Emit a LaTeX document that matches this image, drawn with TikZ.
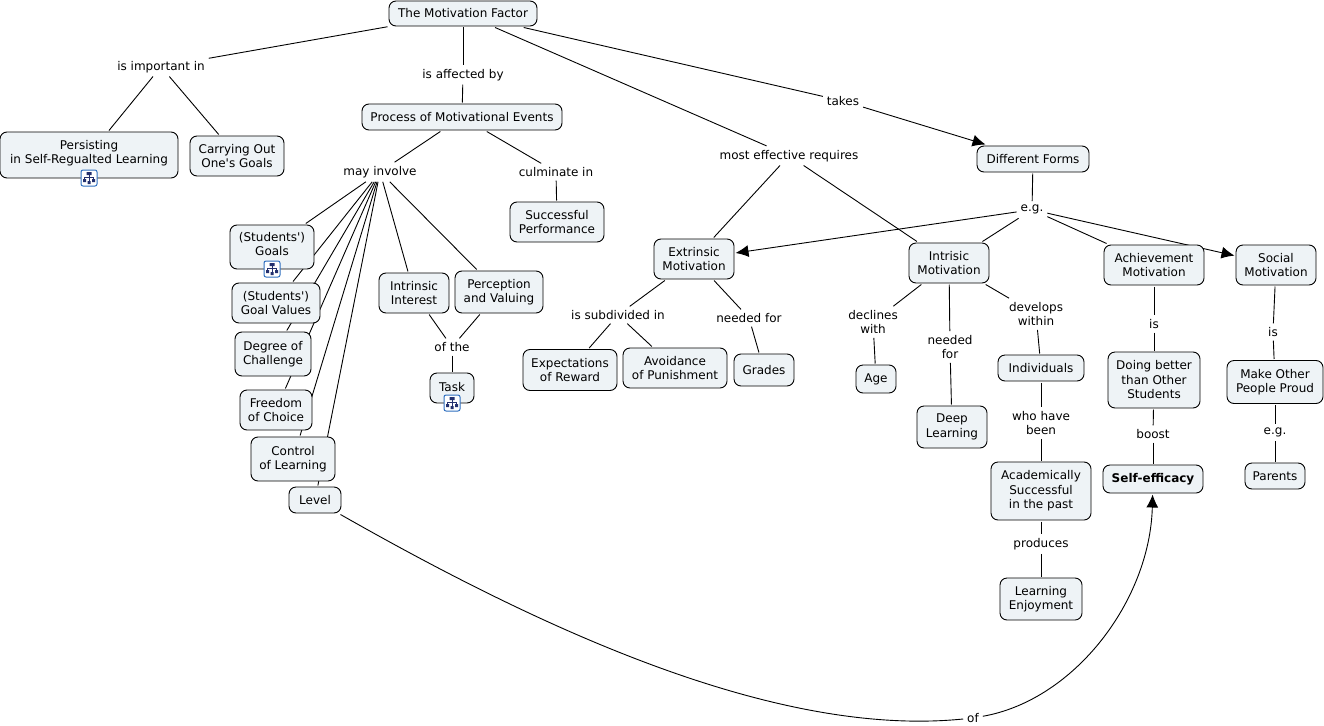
\documentclass[tikz,border=0pt]{standalone}
\usepackage{fontspec}
\setmainfont{DejaVu Sans}[Ligatures=TeXOff]
\usetikzlibrary{arrows.meta,backgrounds}
\definecolor{boxfill}{HTML}{EEF3F6}
\definecolor{iconblue}{HTML}{2F6FC0}
\definecolor{icondark}{HTML}{23306E}

\begin{document}
\begin{tikzpicture}[x=1pt,y=-1pt,font=\fontsize{12}{14.5}\selectfont]
\tikzset{concept/.style = {shape=rectangle,draw,fill=boxfill,rounded corners=7pt,align=center,inner sep=0pt,outer sep=1.5pt,line width=0.9pt}}
\tikzset{link/.style = {align=center,inner sep=2.5pt,outer sep=1.5pt}}
\tikzset{edge/.style = {line width=0.9pt}}
\tikzset{arrowedge/.style = {edge,-{Latex[length=13pt,width=12pt]}}}
\tikzset{mapicon/.pic = {
  \draw[iconblue,fill=white,rounded corners=2pt,line width=1pt] (-8,-8) rectangle (8,8);
  \draw[icondark,line width=0.6pt] (0,-3) -- (0,3) (-4.5,1) -- (-4.5,-1) -- (4.5,-1) -- (4.5,1);
  \fill[icondark] (-2.5,-6) rectangle (2.5,-3) (-6,1) rectangle (-3,4) (3,1) rectangle (6,4) (-1.5,3) rectangle (1.5,6);
}}
\useasboundingbox (0,0) rectangle (1324,725);
% concepts
\node[concept,minimum width=148pt,minimum height=25pt] (factor) at (463,13.5) {The Motivation Factor};
\node[concept,minimum width=178pt,minimum height=46pt,text depth=6pt] (persisting) at (89,155) {Persisting\\in Self-Regualted Learning};
\node[concept,minimum width=94pt,minimum height=40pt] (carrying) at (237,156) {Carrying Out\\One's Goals};
\node[concept,minimum width=200pt,minimum height=26pt] (process) at (462,117) {Process of Motivational Events};
\node[concept,minimum width=94pt,minimum height=40pt] (successful) at (557,222) {Successful\\Performance};
\node[concept,minimum width=84pt,minimum height=44pt,text depth=6pt] (goals) at (272,247) {(Students')\\Goals};
\node[concept,minimum width=88pt,minimum height=40pt] (values) at (276,303) {(Students')\\Goal Values};
\node[concept,minimum width=76pt,minimum height=44pt] (challenge) at (273,354) {Degree of\\Challenge};
\node[concept,minimum width=72pt,minimum height=40pt] (freedom) at (276,410) {Freedom\\of Choice};
\node[concept,minimum width=84pt,minimum height=44pt] (control) at (293,459) {Control\\of Learning};
\node[concept,minimum width=52pt,minimum height=26pt] (level) at (315,500) {Level};
\node[concept,minimum width=70pt,minimum height=40pt] (interest) at (414,293) {Intrinsic\\Interest};
\node[concept,minimum width=88pt,minimum height=42pt] (perception) at (499,292) {Perception\\and Valuing};
\node[concept,minimum width=44pt,minimum height=30pt,text depth=3pt] (task) at (452,388) {Task};
\node[concept,minimum width=112pt,minimum height=26pt] (forms) at (1033,159) {Different Forms};
\node[concept,minimum width=80pt,minimum height=40pt] (extrinsic) at (694,259) {Extrinsic\\Motivation};
\node[concept,minimum width=80pt,minimum height=40pt] (intrisic) at (949,263) {Intrisic\\Motivation};
\node[concept,minimum width=100pt,minimum height=40pt] (achievement) at (1154,265) {Achievement\\Motivation};
\node[concept,minimum width=80pt,minimum height=40pt] (social) at (1276,265) {Social\\Motivation};
\node[concept,minimum width=94pt,minimum height=41pt] (expectations) at (570,370) {Expectations\\of Reward};
\node[concept,minimum width=104pt,minimum height=40pt] (avoidance) at (675,368) {Avoidance\\of Punishment};
\node[concept,minimum width=60pt,minimum height=32pt] (grades) at (764,370) {Grades};
\node[concept,minimum width=40pt,minimum height=28pt] (age) at (876,379) {Age};
\node[concept,minimum width=70pt,minimum height=42pt] (deep) at (952,427) {Deep\\Learning};
\node[concept,minimum width=86pt,minimum height=26pt] (individuals) at (1041,368) {Individuals};
\node[concept,minimum width=100pt,minimum height=58pt] (academically) at (1041,491) {Academically\\Successful\\in the past};
\node[concept,minimum width=82pt,minimum height=42pt] (enjoyment) at (1041,599) {Learning\\Enjoyment};
\node[concept,minimum width=92pt,minimum height=56pt] (doing) at (1154,380) {Doing better\\than Other\\Students};
\node[concept,minimum width=100pt,minimum height=28pt,font=\fontsize{12}{14.5}\selectfont\bfseries] (efficacy) at (1153,479) {Self-efficacy};
\node[concept,minimum width=96pt,minimum height=43pt] (proud) at (1275,382) {Make Other\\People Proud};
\node[concept,minimum width=60pt,minimum height=26pt] (parents) at (1275,476) {Parents};
% linking phrases
\node[link] (important) at (161,66.7) {is important in};
\node[link] (affected) at (463,74.7) {is affected by};
\node[link] (involve) at (380,172) {may involve};
\node[link] (culminate) at (556,172) {culminate in};
\node[link] (ofthe) at (452,347) {of the};
\node[link] (effective) at (789,155.7) {most effective requires};
\node[link] (takes) at (843,101) {takes};
\node[link] (eg) at (1032,209.7) {e.g.};
\node[link] (subdivided) at (618,315) {is subdivided in};
\node[link] (neededa) at (749,318) {needed for};
\node[link] (declines) at (873,322) {declines\\with};
\node[link] (neededb) at (950,347) {needed\\for};
\node[link] (develops) at (1036,314) {develops\\within};
\node[link] (who) at (1041,423) {who have\\been};
\node[link] (produces) at (1041,544) {produces};
\node[link] (isa) at (1154,324) {is};
\node[link] (boost) at (1153,434) {boost};
\node[link] (isb) at (1273,332) {is};
\node[link] (egb) at (1275,432.7) {e.g.};
\node[link] (of) at (973,718) {of};
% icons on top of their concepts
\pic at (89,178) {mapicon};
\pic at (272,269) {mapicon};
\pic at (452,403) {mapicon};
\begin{scope}[on background layer]
\foreach \a/\b in {factor/important,factor/affected,factor/effective,factor/takes,
  important/persisting,important/carrying,affected/process,process/involve,process/culminate,
  culminate/successful,involve/goals,involve/values,involve/challenge,involve/freedom,
  involve/control,involve/level,involve/interest,involve/perception,interest/ofthe,
  perception/ofthe,ofthe/task,effective/extrinsic,effective/intrisic,forms/eg,eg/intrisic,
  eg/achievement,extrinsic/subdivided,extrinsic/neededa,subdivided/expectations,
  subdivided/avoidance,neededa/grades,intrisic/declines,intrisic/neededb,intrisic/develops,
  declines/age,neededb/deep,develops/individuals,individuals/who,who/academically,
  academically/produces,produces/enjoyment,achievement/isa,isa/doing,doing/boost,boost/efficacy,
  social/isb,isb/proud,proud/egb,egb/parents}
  \draw[edge] (\a) -- (\b);
\draw[arrowedge] (takes) -- (forms);
\draw[arrowedge] (eg) -- (extrinsic);
\draw[arrowedge] (eg) -- (social);
\draw[edge] (level) .. controls (540,628) and (775,738) .. (of);
\draw[arrowedge] (of) .. controls (1075,700) and (1150,600) .. (efficacy);
\end{scope}
\end{tikzpicture}
\end{document}
